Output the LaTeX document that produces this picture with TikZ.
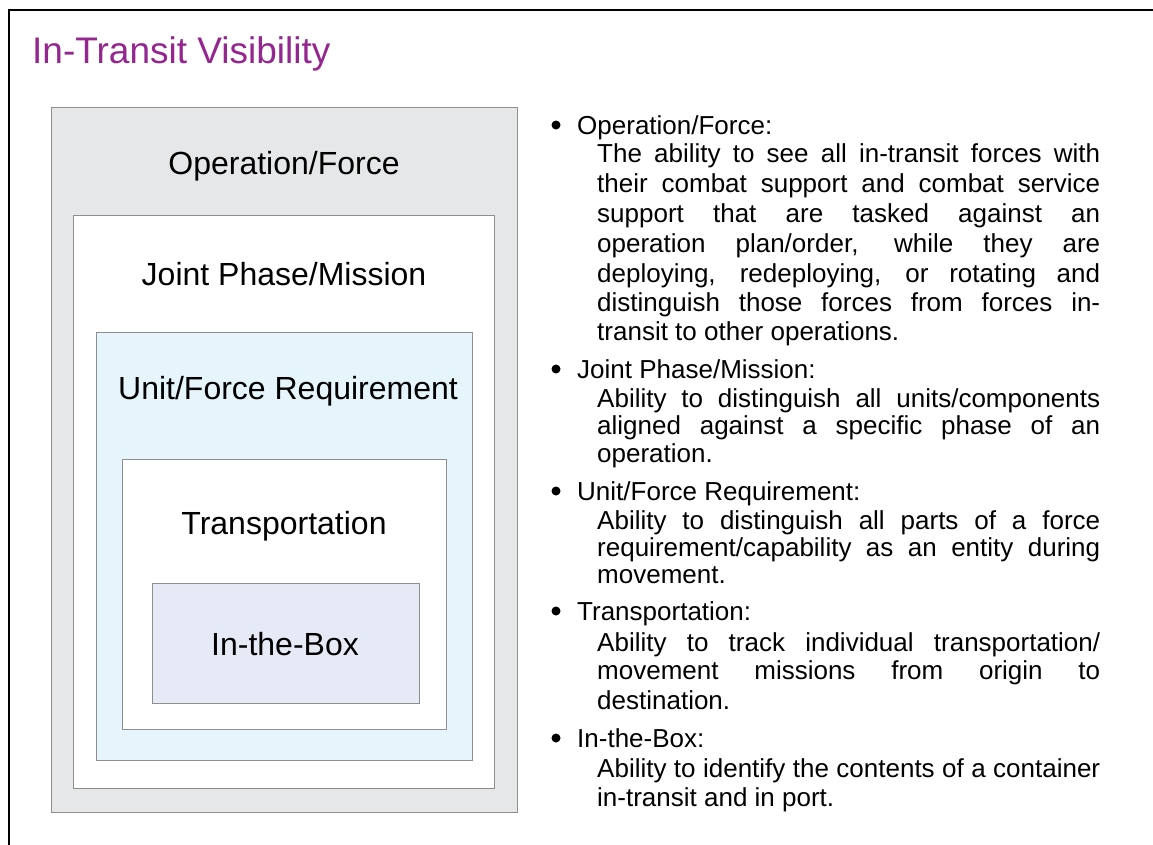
\documentclass[tikz,border=0pt]{standalone}
\usepackage{fontspec}
\setmainfont{Liberation Sans}
\definecolor{titlepurple}{HTML}{93278F}
\definecolor{boxline}{HTML}{8E8E8E}
\definecolor{grayfill}{HTML}{E6E7E8}
\definecolor{bluefill}{HTML}{E6F4FC}
\definecolor{lavfill}{HTML}{E6EAF6}
\newcommand\jline[3]{\node[bodytxt] (#1) at (597,#2) {\makebox[503pt][s]{#3}};}
\newcommand\lline[3]{\node[bodytxt] (#1) at (597,#2) {#3};}
\begin{document}
\begin{tikzpicture}[x=1pt,y=-1pt,
  frame/.style={line width=2.6pt,black},
  levelbox/.style={draw=boxline,line width=1.4pt,anchor=north west,inner sep=0pt},
  boxlabel/.style={anchor=base,inner sep=0pt,font=\fontsize{32}{36}\selectfont},
  headtxt/.style={anchor=base west,inner sep=0pt,font=\fontsize{26}{29}\selectfont},
  bodytxt/.style={anchor=base west,inner sep=0pt,font=\fontsize{26}{29}\selectfont},
  dot/.style={circle,fill=black,inner sep=0pt,minimum size=9pt}]
\useasboundingbox (0,0) rectangle (1153,844);
\fill[white] (0,0) rectangle (1153,844);
% outer frame
\coordinate (fa) at (9,850);
\coordinate (fb) at (9,10);
\coordinate (fc) at (1160,10);
\draw[frame] (fa) -- (fb) -- (fc);
% title
\node[anchor=base west,inner sep=0pt,text=titlepurple,font=\fontsize{37}{42}\selectfont] (title) at (32,63) {In-Transit Visibility};
% nested boxes
\node[levelbox,fill=grayfill,minimum width=466pt,minimum height=705pt] (b1) at (51,107) {};
\node[levelbox,fill=white,minimum width=421pt,minimum height=573pt] (b2) at (73,215) {};
\node[levelbox,fill=bluefill,minimum width=376pt,minimum height=428pt] (b3) at (96,332) {};
\node[levelbox,fill=white,minimum width=324pt,minimum height=270pt] (b4) at (122,459) {};
\node[levelbox,fill=lavfill,minimum width=267pt,minimum height=120pt] (b5) at (152,583) {};
\node[boxlabel] (l1) at (284,174) {Operation/Force};
\node[boxlabel] (l2) at (284,285) {Joint Phase/Mission};
\node[boxlabel] (l3) at (288,399) {Unit/Force Requirement};
\node[boxlabel] (l4) at (284,534) {Transportation};
\node[boxlabel] (l5) at (285,655) {In-the-Box};
% bullets and headers
\node[dot] (d1) at (556,125) {};
\node[headtxt] (h1) at (577,134) {Operation/Force:};
\node[dot] (d2) at (556,369) {};
\node[headtxt] (h2) at (577,378) {Joint Phase/Mission:};
\node[dot] (d3) at (556,491) {};
\node[headtxt] (h3) at (577,500) {Unit/Force Requirement:};
\node[dot] (d4) at (556,611) {};
\node[headtxt] (h4) at (577,620) {Transportation:};
\node[dot] (d5) at (556,738) {};
\node[headtxt] (h5) at (577,747) {In-the-Box:};
% body texts
\jline{t1}{162}{The ability to see all in-transit forces with}
\jline{t2}{192}{their combat support and combat service}
\jline{t3}{222}{support that are tasked against an}
\jline{t4}{252}{operation plan/order, while they are}
\jline{t5}{282}{deploying, redeploying, or rotating and}
\jline{t6}{311}{distinguish those forces from forces in-}
\lline{t7}{340}{transit to other operations.}
\jline{t8}{407}{Ability to distinguish all units/components}
\jline{t9}{434}{aligned against a specific phase of an}
\lline{t10}{462}{operation.}
\jline{t11}{529}{Ability to distinguish all parts of a force}
\jline{t12}{556}{requirement/capability as an entity during}
\lline{t13}{583}{movement.}
\jline{t14}{651}{Ability to track individual transportation/}
\jline{t15}{679}{movement missions from origin to}
\lline{t16}{709}{destination.}
\jline{t17}{777}{Ability to identify the contents of a container}
\lline{t18}{806}{in-transit and in port.}
\end{tikzpicture}
\end{document}
